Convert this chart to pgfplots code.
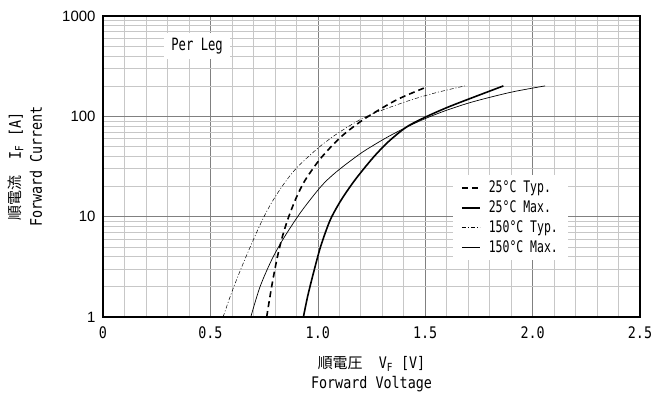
\documentclass[border=0pt]{standalone}
\usepackage{pgfplots}
\pgfplotsset{compat=1.18}
\usepackage{fontspec}
\setmainfont{Liberation Sans}
\newfontfamily\goth[FakeStretch=0.84]{DejaVu Sans Mono}
\newfontfamily\gothn[FakeStretch=0.72]{DejaVu Sans Mono}
\newfontfamily\jp{Noto Sans CJK JP}
\begin{document}
\begin{tikzpicture}
\begin{axis}[
  at={(0,0)}, anchor=south west,
  scale only axis, width=537bp, height=301bp,
  xmin=0, xmax=2.5, ymin=1, ymax=1000, ymode=log,
  xtick={0,0.5,1.0,1.5,2.0,2.5},
  xticklabels={0,0.5,1.0,1.5,2.0,2.5},
  ytick={1,10,100,1000},
  yticklabels={1,10,100,1000},
  minor x tick num=4,
  xmajorgrids, xminorgrids, ymajorgrids, yminorgrids,
  major grid style={draw=black!50, line width=0.6pt},
  minor grid style={draw=black!22, line width=0.6pt},
  major tick length=0pt, minor tick length=0pt,
  axis line style={line width=1.5pt},
  xticklabel style={font=\fontsize{16}{16}\goth, yshift=-6bp},
  yticklabel style={font=\fontsize{15}{15}\selectfont, xshift=-4bp},
  legend style={draw=none, fill=white, at={(0.651,0.472)}, anchor=north west,
    font=\fontsize{16}{16}\gothn, inner xsep=8bp, inner ysep=4bp,
    row sep=2.5bp, cells={anchor=west}},
  legend cell align=left,
  legend image code/.code={\draw[#1] (0bp,0bp) -- (18bp,0bp); \path (24bp,0bp);},
  clip mode=individual,
]
\addlegendimage{black, line width=1.8pt, dash pattern=on 6bp off 4bp}
\addlegendentry{25°C Typ.}
\addlegendimage{black, line width=2pt}
\addlegendentry{25°C Max.}
\addlegendimage{black, line width=0.6pt, dash pattern=on 4bp off 2bp on 1bp off 2bp}
\addlegendentry{150°C Typ.}
\addlegendimage{black, line width=0.8pt}
\addlegendentry{150°C Max.}
\addplot[forget plot, black, line width=1.6pt, dash pattern=on 6bp off 4bp, smooth, tension=0.5] coordinates {
(0.762,1) (0.785,2.00) (0.810,3.80) (0.835,6.31) (0.863,9.77) (0.900,15.5) (0.940,22.9)
(1.000,35.1) (1.050,46.8) (1.103,61.0) (1.150,74.1) (1.228,97.7) (1.367,146) (1.504,195)};
\addplot[forget plot, black, line width=1.6pt, smooth, tension=0.5] coordinates {
(0.933,1) (0.952,1.58) (0.975,2.51) (1.010,4.79) (1.040,7.41) (1.065,10.0) (1.110,14.8)
(1.173,23.2) (1.258,38.9) (1.330,56.2) (1.414,78.5) (1.504,98.9) (1.600,122) (1.693,146) (1.864,201)};
\addplot[forget plot, black, line width=0.5pt, dash pattern=on 4bp off 2bp on 1bp off 2bp, smooth, tension=0.5] coordinates {
(0.559,1) (0.600,1.78) (0.646,3.16) (0.700,5.89) (0.745,9.55) (0.785,13.8) (0.830,19.5)
(0.875,26.3) (0.917,33.1) (1.010,50.1) (1.103,70.0) (1.228,100) (1.414,141) (1.550,172) (1.685,201)};
\addplot[forget plot, black, line width=0.7pt, smooth, tension=0.5] coordinates {
(0.688,1) (0.731,2.0) (0.785,3.7) (0.839,6.0) (0.917,10.8) (0.995,17.8) (1.041,22.9)
(1.103,29.9) (1.196,42.2) (1.258,51.3) (1.330,63.1) (1.414,78.2) (1.504,95.7) (1.600,115)
(1.724,140) (1.900,174) (2.058,201)};
\node[fill=white, inner xsep=7bp, inner ysep=5bp, font=\fontsize{17}{17}\gothn] at (axis cs:0.438,501) {Per Leg};
\node[font=\fontsize{16}{16}\goth, align=center] at (rel axis cs:0.5,-0.19)
  {{\jp\fontsize{15}{15}\selectfont 順電圧}\ \ V\textsubscript{F} [V]\\[4bp] Forward Voltage};
\node[rotate=90, font=\fontsize{16}{16}\goth, align=center] at (rel axis cs:-0.145,0.5)
  {{\jp\fontsize{15}{15}\selectfont 順電流}\ \ I\textsubscript{F} [A]\\[5bp] Forward Current};
\end{axis}
\pgfresetboundingbox
\path[use as bounding box] (-103bp,-80bp) rectangle (550bp,317bp);
\end{tikzpicture}
\end{document}
